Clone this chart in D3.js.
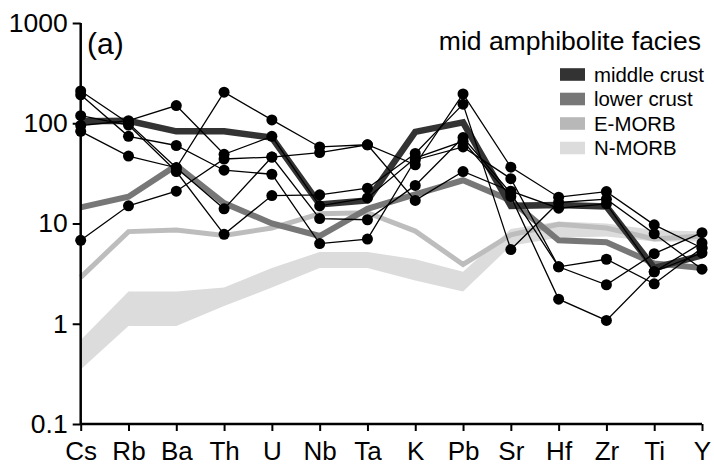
<!DOCTYPE html>
<html><head><meta charset="utf-8">
<script src="https://cdn.jsdelivr.net/npm/d3@7/dist/d3.min.js"></script>
<style>body{margin:0;background:#fff}svg{display:block;font-family:"Liberation Sans",Arial,sans-serif}</style>
</head><body><svg id="c" width="714" height="473"></svg>
<script>
const elements = ["Cs","Rb","Ba","Th","U","Nb","Ta","K","Pb","Sr","Hf","Zr","Ti","Y"];
const yTicks = [0.1,1,10,100,1000];
const middleCrust = [105,106,83,83,72,15.5,17,82,102,15,15.3,14.8,3.6,4.8];
const lowerCrust  = [14.5,18.5,38,16,10,7.5,14,19.5,27,17,6.8,6.5,4.0,3.6];
const eMorb       = [2.9,8.3,8.6,7.6,9,12.5,12.8,8.4,3.9,7.7,9.8,9,7,7.5];
const nMorbHigh   = [0.69,2.1,2.1,2.3,3.6,5.2,5.2,4.4,3.3,8.8,10.5,10,8.6,8.3];
const nMorbLow    = [0.35,0.95,0.95,1.5,2.3,3.6,3.6,2.7,2.1,6.0,7.2,7.4,6.6,6.6];
const sample1 = [210,100,36,204,108,58,61,38.5,196,36.5,18.3,20.8,9.7,5.7];
const sample2 = [192,74,60,34,31,6.3,7,43,58,28,3.7,4.4,2.5,5.7];
const sample3 = [119,96,33,7.8,19,19.3,22.5,50,155,5.5,16.2,17.5,7.9,3.5];
const sample4 = [95,106,150,49,74,15,18,45,66,18.6,1.76,1.08,3.3,5.1];
const sample5 = [83,47,36,14,46,11.2,10.9,24,72,20,3.7,2.45,5.0,8.1];
const sample6 = [6.8,15,21,44,46,51,61,17,33,21,14.2,15.7,3.3,6.4];
const samples = [sample1,sample2,sample3,sample4,sample5,sample6];
const legendLabels = ["middle crust","lower crust","E-MORB","N-MORB"];
const legendColors = ["#333333","#777777","#b8b8b8","#dcdcdc"];

const svg = d3.select("#c");
const x = d3.scalePoint().domain(elements).range([80.7,702]);
const y = d3.scaleLog().domain([0.1,1000]).range([424,23]);

// N-MORB band
const area = d3.area().x((d,i)=>x(elements[i])).y0((d,i)=>y(nMorbLow[i])).y1(d=>y(d));
svg.append("path").datum(nMorbHigh).attr("d",area).attr("fill","#dcdcdc");

const line = d3.line().x((d,i)=>x(elements[i])).y(d=>y(d));
svg.append("path").datum(eMorb).attr("d",line).attr("fill","none").attr("stroke","#bdbdbd").attr("stroke-width",5);
svg.append("path").datum(lowerCrust).attr("d",line).attr("fill","none").attr("stroke","#777").attr("stroke-width",6);
svg.append("path").datum(middleCrust).attr("d",line).attr("fill","none").attr("stroke","#333").attr("stroke-width",6.5);

samples.forEach(s=>{
  svg.append("path").datum(s).attr("d",line).attr("fill","none").attr("stroke","#000").attr("stroke-width",1.3);
});
samples.forEach(s=>{
  svg.append("g").selectAll("circle").data(s).join("circle")
    .attr("cx",(d,i)=>x(elements[i])).attr("cy",d=>y(d)).attr("r",5.5).attr("fill","#000");
});

// axes
const ya = svg.append("g").attr("transform","translate(80.7,0)")
  .call(d3.axisLeft(y).tickValues(yTicks).tickFormat(d3.format("~g")).tickSize(8).tickPadding(5));
ya.select(".domain").attr("stroke-width",2.5).attr("d","M0,"+y(1000)+"V"+y(0.1));
ya.selectAll(".tick line").attr("stroke-width",2);
ya.selectAll("text").attr("font-size",26.5).attr("font-family","Liberation Sans, Arial, sans-serif").attr("fill","#000");

const xa = svg.append("g").attr("transform","translate(0,424)")
  .call(d3.axisBottom(x).tickSize(7).tickPadding(11));
xa.select(".domain").attr("stroke-width",2.5).attr("d","M80.7,0H702");
xa.selectAll(".tick line").attr("stroke-width",2);
xa.selectAll("text").attr("font-size",26).attr("font-family","Liberation Sans, Arial, sans-serif").attr("fill","#000");

svg.append("text").attr("x",87).attr("y",54).attr("font-size",30).text("(a)");
svg.append("text").attr("x",701).attr("y",50).attr("text-anchor","end").attr("font-size",26.5).text("mid amphibolite facies");

const lg = svg.append("g");
legendLabels.forEach((t,i)=>{
  const yy = 74.5 + i*24.5;
  lg.append("rect").attr("x",560).attr("y",yy-6.3).attr("width",25).attr("height",12.6).attr("fill",legendColors[i]);
  lg.append("text").attr("x",594).attr("y",yy+7.3).attr("font-size",20.4).text(t);
});
</script></body></html>
